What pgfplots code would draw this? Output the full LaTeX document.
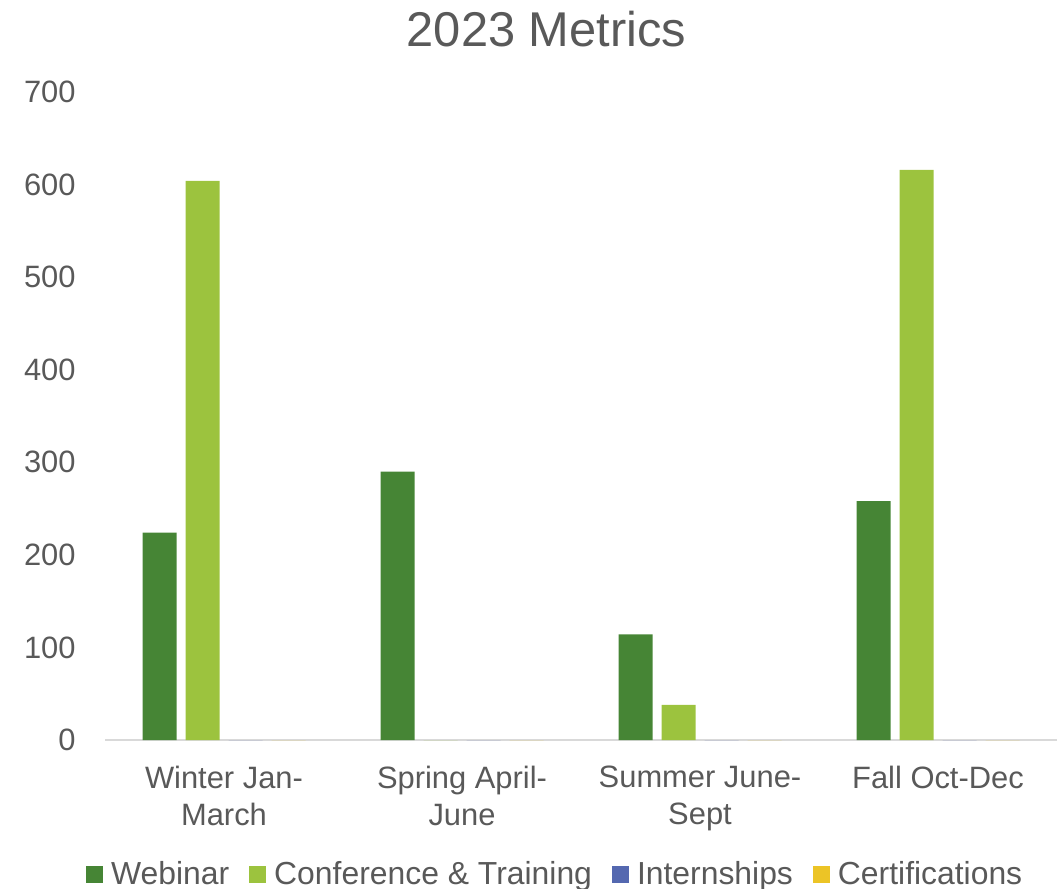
\documentclass[border=0pt]{standalone}
\usepackage{pgfplots}
\pgfplotsset{compat=1.18}
\usepackage{fontspec}
\setmainfont{Liberation Sans}
\definecolor{webc}{RGB}{70,133,53}
\definecolor{confc}{RGB}{156,195,62}
\definecolor{intc}{RGB}{84,104,176}
\definecolor{certc}{RGB}{236,196,38}
\definecolor{txt}{RGB}{89,89,89}
\definecolor{axc}{RGB}{217,217,217}
\begin{document}
\begin{tikzpicture}
\path[use as bounding box] (-52.5bp,-74.5bp) rectangle (478bp,370bp);
\begin{axis}[
  at={(0,0)}, anchor=south west,
  scale only axis,
  width=476bp, height=324bp,
  ymin=0, ymax=700,
  xmin=-0.5, xmax=3.5,
  ytick={0,100,...,700},
  xtick={0,1,2,3},
  xticklabels={{Winter Jan-\\March},{Spring April-\\June},{Summer June-\\Sept},{Fall Oct-Dec}},
  ybar=4.5bp, bar width=17bp,
  axis x line*=bottom, axis y line*=left,
  x axis line style={draw=axc, line width=1pt, -},
  y axis line style={draw=none},
  major tick length=0pt,
  /pgf/number format/assume math mode=true,
  tick label style={font=\fontsize{15.5}{18.5}\selectfont, text=txt},
  yticklabel style={anchor=east, inner xsep=0pt, xshift=-14.5bp},
  xticklabel style={align=center, anchor=north, inner sep=0pt, yshift=-13bp},
  title={2023 Metrics},
  title style={at={(rel axis cs:0.4638,1)}, anchor=base, yshift=17bp, font=\fontsize{24.5}{28}\selectfont, text=txt},
  legend columns=4,
  legend style={at={(rel axis cs:0.476,0)}, anchor=center, yshift=-67bp, draw=none, fill=none,
    font=\fontsize{16}{18}\selectfont, text=txt,
    /tikz/every even column/.append style={column sep=6bp},
    nodes={inner xsep=4bp, inner ysep=0pt}},
  legend image code/.code={\fill[#1,draw=none] (0bp,-4.25bp) rectangle (8.5bp,4.25bp);},
]
\addplot[fill=webc, draw=none] coordinates {(0,224) (1,290) (2,114) (3,258)};
\addplot[fill=confc, draw=none] coordinates {(0,604) (1,0) (2,38) (3,616)};
\addplot[fill=intc, draw=none] coordinates {(0,0) (1,0) (2,0) (3,0)};
\addplot[fill=certc, draw=none] coordinates {(0,0) (1,0) (2,0) (3,0)};
\legend{Webinar, Conference \& Training, Internships, Certifications}
\end{axis}
\end{tikzpicture}
\end{document}
